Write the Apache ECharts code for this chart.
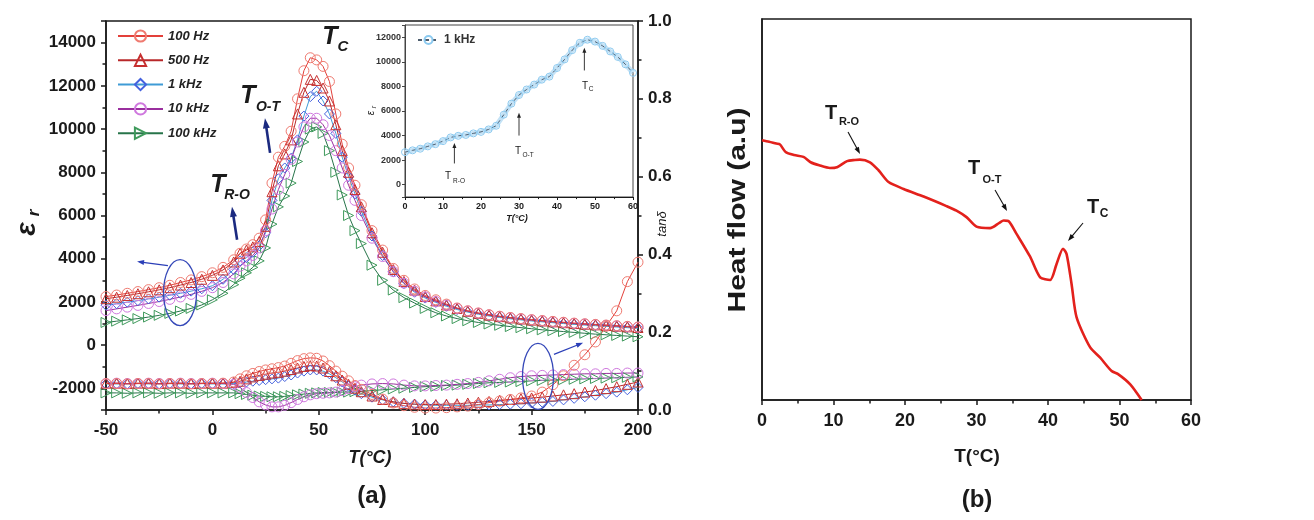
<!DOCTYPE html>
<html><head><meta charset="utf-8">
<script src="https://cdn.jsdelivr.net/npm/echarts@6/dist/echarts.min.js"></script>
<style>html,body{margin:0;padding:0;background:#fff}#c{width:1314px;height:520px}</style>
</head><body><div id="c"></div>
<script>
// ---------- Panel (a): temperature grid (°C) ----------
const T = [-50,-45,-40,-35,-30,-25,-20,-15,-10,-5,0,5,10,
  13,16,19,22,25,28,31,34,37,40,43,46,49,52,55,58,61,64,67,70,
  75,80,85,90,95,100,105,110,115,120,125,130,135,140,145,150,155,160,165,170,175,180,185,190,195,200];

// dielectric constant (left axis)
const eps100Hz = [2250,2320,2400,2480,2570,2660,2770,2900,3020,3170,3350,3600,3950,
  4250,4450,4650,4950,5800,7500,8700,9200,9900,11400,12700,13300,13200,12900,12200,10700,9300,8200,7400,6500,
  5300,4400,3550,3000,2600,2300,2100,1900,1720,1590,1490,1410,1340,1280,1230,1180,1140,1100,1060,1020,990,960,930,900,870,840];
const eps500Hz = [2150,2220,2300,2380,2470,2560,2660,2780,2900,3050,3230,3480,3850,
  4250,4400,4550,4800,5500,7100,8300,8850,9500,10700,11700,12300,12250,11900,11300,10200,9000,8000,7200,6400,
  5200,4300,3500,2950,2550,2250,2050,1860,1700,1570,1470,1390,1320,1260,1210,1160,1120,1080,1040,1000,970,940,910,880,850,820];
const eps1kHz = [1850,1920,1990,2060,2140,2220,2310,2400,2500,2610,2750,3050,3500,
  3900,4050,4300,4600,5200,6700,7700,8200,8650,9500,10600,11500,11750,11300,10700,9800,8700,7800,7000,6200,
  5050,4150,3400,2850,2450,2180,1980,1800,1650,1530,1430,1350,1280,1220,1170,1120,1080,1040,1000,960,930,900,870,840,810,780];
const eps10kHz = [1600,1680,1760,1840,1930,2020,2120,2230,2350,2490,2660,2900,3300,
  3650,3900,4150,4500,5300,6300,7200,7900,8600,9400,10100,10500,10500,10200,9700,9000,8200,7400,6700,6000,
  4950,4100,3400,2870,2500,2230,2020,1850,1700,1580,1480,1400,1330,1270,1220,1170,1130,1090,1050,1010,980,950,920,890,860,830];
const eps100kHz = [1050,1110,1170,1230,1300,1380,1470,1580,1700,1860,2100,2400,2800,
  3100,3350,3600,3900,4500,5600,6400,6900,7500,8500,9400,10000,10100,9800,9000,8000,6950,6000,5300,4700,
  3700,3000,2550,2200,1950,1700,1500,1350,1230,1130,1050,980,920,860,810,760,710,670,630,590,550,510,480,450,420,390];

// loss tangent (right axis)
const tan100Hz = [0.068,0.068,0.067,0.068,0.068,0.067,0.068,0.068,0.067,0.068,0.068,0.069,0.072,
  0.080,0.088,0.094,0.099,0.103,0.106,0.109,0.113,0.120,0.127,0.132,0.134,0.133,0.126,0.114,0.100,0.087,0.075,0.063,0.053,
  0.040,0.028,0.018,0.011,0.007,0.005,0.005,0.006,0.008,0.010,0.014,0.019,0.023,0.027,0.031,0.036,0.046,0.065,0.088,0.115,0.142,0.175,0.215,0.255,0.330,0.380];
const tan500Hz = [0.069,0.069,0.068,0.069,0.069,0.068,0.069,0.069,0.068,0.069,0.069,0.069,0.071,
  0.074,0.080,0.085,0.089,0.092,0.095,0.097,0.100,0.104,0.108,0.112,0.114,0.113,0.108,0.099,0.088,0.077,0.066,0.056,0.047,
  0.036,0.027,0.021,0.017,0.015,0.014,0.014,0.015,0.016,0.018,0.020,0.022,0.025,0.027,0.029,0.031,0.033,0.036,0.039,0.042,0.046,0.050,0.055,0.060,0.066,0.072];
const tan1kHz = [0.067,0.067,0.067,0.068,0.067,0.067,0.068,0.067,0.067,0.068,0.067,0.067,0.068,
  0.070,0.072,0.074,0.076,0.078,0.080,0.082,0.086,0.090,0.095,0.100,0.103,0.103,0.100,0.093,0.083,0.072,0.061,0.051,0.042,
  0.033,0.026,0.021,0.017,0.015,0.013,0.012,0.012,0.012,0.012,0.013,0.013,0.014,0.015,0.016,0.018,0.020,0.022,0.026,0.030,0.034,0.038,0.042,0.046,0.052,0.058];
const tan10kHz = [0.068,0.069,0.068,0.068,0.069,0.068,0.068,0.069,0.068,0.068,0.069,0.068,0.066,
  0.058,0.045,0.032,0.021,0.013,0.008,0.008,0.012,0.019,0.027,0.034,0.039,0.042,0.043,0.044,0.046,0.050,0.055,0.060,0.064,
  0.067,0.068,0.067,0.064,0.062,0.062,0.063,0.064,0.066,0.068,0.071,0.075,0.079,0.083,0.086,0.088,0.089,0.090,0.091,0.092,0.093,0.093,0.094,0.094,0.095,0.095];
const tan100kHz = [0.044,0.044,0.043,0.044,0.044,0.043,0.044,0.044,0.043,0.044,0.044,0.044,0.044,
  0.042,0.040,0.038,0.036,0.035,0.034,0.034,0.035,0.037,0.039,0.041,0.043,0.044,0.045,0.045,0.045,0.046,0.046,0.047,0.048,
  0.050,0.052,0.054,0.056,0.058,0.060,0.061,0.063,0.064,0.066,0.068,0.070,0.071,0.072,0.073,0.075,0.076,0.077,0.078,0.079,0.080,0.081,0.082,0.083,0.084,0.085];

// inset (1 kHz, 0–60 °C)
const insetT = [0,2,4,6,8,10,12,14,16,18,20,22,24,26,28,30,32,34,36,38,40,42,44,46,48,50,52,54,56,58,60];
const insetEps = [2650,2800,2930,3120,3300,3550,3850,3980,4050,4180,4300,4500,4800,5700,6600,7300,7750,8150,8550,8800,9500,10200,10950,11550,11800,11650,11300,10850,10400,9800,9100];

// ---------- Panel (b): DSC heat flow (arbitrary units) ----------
const dscT = [0,1,2,2.5,3.3,4.5,5.8,6.8,8,9.5,10.5,11.9,13,13.7,15.1,16.3,17.7,19.8,22.6,25.8,27.2,28.6,30,31.9,33.2,33.8,34.5,35.6,37.5,38.9,40.3,41.2,42.1,42.6,43.3,44,45.9,47.3,48.9,49.8,51.5,53.1];
const dscY = [68.2,67.8,67.3,67.1,65.1,64.3,63.8,62.4,61.6,60.9,61.1,62.7,63.0,63.1,62.4,60.3,57.2,55.4,53.4,50.9,49.7,48.0,45.5,45.1,46.5,47.1,46.9,43.6,37.6,32.2,31.5,35.7,39.7,38.3,30.4,21.7,13.8,11.1,7.6,6.8,4.1,0];

const legendNames = ['100 Hz','500 Hz','1 kHz','10 kHz','100 kHz'];
const leftTicks = [-2000,0,2000,4000,6000,8000,10000,12000,14000];
const insetTicks = [0,2000,4000,6000,8000,10000,12000];

const FONT = '"Liberation Sans", Arial, sans-serif';
const INK = '#1a1a1a';

const freqs = [
  {name:'100 kHz', eps:eps100kHz, tan:tan100kHz, symbol:'triangle', rot:-90, mc:'#3f9a5c', lc:'#27744a'},
  {name:'1 kHz',   eps:eps1kHz,   tan:tan1kHz,   symbol:'diamond',  rot:0,   mc:'#4461de', lc:'#3f9bd6'},
  {name:'500 Hz',  eps:eps500Hz,  tan:tan500Hz,  symbol:'triangle', rot:0,   mc:'#c62f2f', lc:'#b8282a'},
  {name:'10 kHz',  eps:eps10kHz,  tan:tan10kHz,  symbol:'circle',   rot:0,   mc:'#cf78de', lc:'#9a2f9e'},
  {name:'100 Hz',  eps:eps100Hz,  tan:tan100Hz,  symbol:'circle',   rot:0,   mc:'#ef7a70', lc:'#e3403a'}
];

function pairs(xs, ys){ return xs.map((x,i)=>[x, ys[i]]); }

const series = [];
function addSet(key, yIdx){
  freqs.forEach(f=>{
    series.push({
      type:'line', name:f.name, xAxisIndex:0, yAxisIndex:yIdx,
      data: pairs(T, f[key]),
      symbol:f.symbol, symbolRotate:f.rot, symbolSize:10, showAllSymbol:true,
      itemStyle:{color:'rgba(255,255,255,0)', borderColor:f.mc, borderWidth:1},
      lineStyle:{color:f.lc, width:1},
      emphasis:{disabled:true}, silent:true
    });
  });
}
addSet('eps', 0);
addSet('tan', 1);

series.push({
  type:'line', name:'insetBand', xAxisIndex:1, yAxisIndex:2, data:pairs(insetT, insetEps),
  symbol:'none', lineStyle:{color:'#c3e2f6', width:5}, silent:true, emphasis:{disabled:true}
});
series.push({
  type:'line', name:'inset1k', xAxisIndex:1, yAxisIndex:2, data:pairs(insetT, insetEps),
  symbol:'circle', symbolSize:7, showAllSymbol:true,
  itemStyle:{color:'rgba(255,255,255,0)', borderColor:'#8ccaf0', borderWidth:1},
  lineStyle:{color:'#4d5d6e', width:1, type:[4,3]}, silent:true, emphasis:{disabled:true}
});
series.push({
  type:'line', name:'dsc', xAxisIndex:2, yAxisIndex:3, data:pairs(dscT, dscY),
  symbol:'none', smooth:0.25, lineStyle:{color:'#e3211c', width:2.6}, silent:true, emphasis:{disabled:true}
});

function xAx(grid, min, max, interval, fs, margin, lw, tl){
  return {gridIndex:grid, type:'value', min, max, interval,
    axisLine:{onZero:false, lineStyle:{color:INK, width:lw}},
    axisTick:{length:tl, lineStyle:{color:INK, width:lw}},
    minorTick:{show:true, splitNumber:2, length:tl*0.7, lineStyle:{color:INK, width:lw}},
    splitLine:{show:false}, minorSplitLine:{show:false},
    axisLabel:{fontFamily:FONT, fontWeight:'bold', fontSize:fs, color:INK, margin}};
}

const option = {
  animation:false,
  backgroundColor:'#ffffff',
  grid:[
    {left:106, top:21, width:532, height:389, show:true, borderColor:INK, borderWidth:1.5, backgroundColor:'transparent'},
    {left:405, top:25, width:228, height:172, show:true, borderColor:'#444', borderWidth:1, backgroundColor:'transparent'},
    {left:762, top:19, width:429, height:381, show:true, borderColor:INK, borderWidth:1.5, backgroundColor:'transparent'}
  ],
  xAxis:[
    xAx(0, -50, 200, 50, 17, 12, 1.5, 5),
    xAx(1, 0, 60, 10, 9, 5, 1, 3),
    xAx(2, 0, 60, 10, 18, 12, 1.5, 5)
  ],
  yAxis:[
    {gridIndex:0, type:'value', position:'left', min:-3000, max:15000, splitNumber:9,
      axisLine:{show:true, onZero:false, lineStyle:{color:INK, width:1.5}},
      axisTick:{length:5, lineStyle:{color:INK, width:1.5}},
      minorTick:{show:true, splitNumber:2, length:3.5, lineStyle:{color:INK, width:1.5}},
      splitLine:{show:false},
      axisLabel:{fontFamily:FONT, fontWeight:'bold', fontSize:17, color:INK, margin:10,
        formatter:v=> leftTicks.includes(v) ? String(v) : ''}},
    {gridIndex:0, type:'value', position:'right', min:0, max:1, interval:0.2,
      axisLine:{show:true, onZero:false, lineStyle:{color:INK, width:1.5}},
      axisTick:{length:5, lineStyle:{color:INK, width:1.5}},
      minorTick:{show:true, splitNumber:2, length:3.5, lineStyle:{color:INK, width:1.5}},
      splitLine:{show:false},
      axisLabel:{fontFamily:FONT, fontWeight:'bold', fontSize:17, color:INK, margin:10,
        formatter:v=>v.toFixed(1)}},
    {gridIndex:1, type:'value', min:-1000, max:13000, splitNumber:7,
      axisLine:{show:true, onZero:false, lineStyle:{color:'#444', width:1}},
      axisTick:{length:3, lineStyle:{color:'#444'}},
      splitLine:{show:false},
      axisLabel:{fontFamily:FONT, fontWeight:'bold', fontSize:9, color:'#333', margin:4,
        formatter:v=> insetTicks.includes(v) ? String(v) : ''}},
    {gridIndex:2, type:'value', min:0, max:100,
      axisLine:{show:true, onZero:false, lineStyle:{color:INK, width:1.5}},
      axisTick:{show:false}, axisLabel:{show:false}, splitLine:{show:false}}
  ],
  legend:[
    {data:legendNames, orient:'vertical', left:117, top:29, itemWidth:45, itemHeight:14, itemGap:10.3, padding:0,
      selectedMode:false,
      textStyle:{fontFamily:FONT, fontWeight:'bold', fontStyle:'italic', fontSize:13, color:'#222', lineHeight:14}},
    {data:['inset1k'], left:417, top:34, itemWidth:21, itemHeight:10, padding:0, selectedMode:false,
      formatter:()=> '1 kHz',
      textStyle:{fontFamily:FONT, fontWeight:'bold', fontSize:12, color:'#333'}}
  ],
  series
};

const chart = echarts.init(document.getElementById('c'));
chart.setOption(option);

// ---------- annotations ----------
function arrowEls(p1, p2, color, w, hl, hw){
  const dx=p2[0]-p1[0], dy=p2[1]-p1[1], L=Math.hypot(dx,dy), ux=dx/L, uy=dy/L;
  const bx=p2[0]-ux*hl, by=p2[1]-uy*hl, nx=-uy, ny=ux;
  return [
    {type:'line', silent:true, z:50, shape:{x1:p1[0],y1:p1[1],x2:bx+ux,y2:by+uy}, style:{stroke:color, lineWidth:w}},
    {type:'polygon', silent:true, z:50, shape:{points:[[p2[0],p2[1]],[bx+nx*hw/2,by+ny*hw/2],[bx-nx*hw/2,by-ny*hw/2]]}, style:{fill:color}}
  ];
}
function txt(x, y, s, size, opts){
  opts = opts || {};
  return {type:'text', silent:true, z:60, x, y, rotation:opts.rot||0, scaleX:opts.sx||1, scaleY:opts.sy||1,
    style:{text:s, fontFamily:FONT, fontSize:size, fontWeight:opts.weight||'bold', fontStyle:opts.italic?'italic':'normal',
      fill:opts.color||INK, align:'center', verticalAlign:'middle'}};
}
const A = {xAxisIndex:0, yAxisIndex:0};
const I = {xAxisIndex:1, yAxisIndex:2};
const B = {xAxisIndex:2, yAxisIndex:3};
const px = (f, p)=> chart.convertToPixel(f, p);

const els = [];
// panel (a) arrows pointing to transitions
els.push(...arrowEls(px(A,[27.1,8900]), px(A,[24.7,10500]), '#1b2a80', 2.6, 10, 7));
els.push(...arrowEls(px(A,[11.6,4880]), px(A,[9.2,6400]), '#1b2a80', 2.6, 10, 7));
// ellipses + pointer arrows
const eL = px(A,[-15.2,2434]), eR = px(A,[153,-1446]);
els.push({type:'ellipse', silent:true, z:50, shape:{cx:eL[0], cy:eL[1], rx:16.5, ry:33}, style:{fill:'none', stroke:'#3548b8', lineWidth:1.3}});
els.push({type:'ellipse', silent:true, z:50, shape:{cx:eR[0], cy:eR[1], rx:15.5, ry:33}, style:{fill:'none', stroke:'#3548b8', lineWidth:1.3}});
els.push(...arrowEls(px(A,[-20.9,3681]), px(A,[-35.4,3866]), '#2b3fb8', 1.3, 7, 5));
els.push(...arrowEls(px(A,[160.5,-430]), px(A,[174.2,111]), '#2b3fb8', 1.3, 7, 5));
// panel (a) labels
els.push(txt(330, 37, 'T', 25, {italic:true}), txt(343, 47, 'C', 15, {italic:true}));
els.push(txt(248, 96, 'T', 25, {italic:true}), txt(268, 107, 'O-T', 14, {italic:true}));
els.push(txt(218, 185, 'T', 25, {italic:true}), txt(237, 195, 'R-O', 14, {italic:true}));
els.push(txt(370, 458, 'T(°C)', 18, {italic:true}));
els.push(txt(372, 496, '(a)', 24));
els.push(txt(27, 229, 'ε', 28, {italic:true, rot:Math.PI/2}));
els.push(txt(34, 213, 'r', 17, {italic:true, rot:Math.PI/2}));
els.push(txt(662, 224, 'tanδ', 13, {italic:true, weight:'normal', rot:Math.PI/2}));
// inset annotations
els.push(...arrowEls(px(I,[13,1730]), px(I,[13,3400]), '#222', 0.9, 5, 4));
els.push(...arrowEls(px(I,[30,4000]), px(I,[30,5850]), '#222', 0.9, 5, 4));
els.push(...arrowEls(px(I,[47.2,9300]), px(I,[47.2,11150]), '#222', 0.9, 5, 4));
els.push(txt(448, 176, 'T', 10, {weight:'normal'}), txt(459, 181, 'R-O', 6.5, {weight:'normal'}));
els.push(txt(518, 151, 'T', 10, {weight:'normal'}), txt(528, 155, 'O-T', 6.5, {weight:'normal'}));
els.push(txt(585, 86, 'T', 10, {weight:'normal'}), txt(591, 89, 'C', 6.5, {weight:'normal'}));
els.push(txt(517, 219, 'T(°C)', 9, {italic:true}));
els.push(txt(371, 113, 'ε', 10, {italic:true, weight:'normal', rot:Math.PI/2}));
els.push(txt(374, 107, 'r', 7, {italic:true, weight:'normal', rot:Math.PI/2}));
// panel (b) annotations
els.push(...arrowEls(px(B,[12.03,70.34]), px(B,[13.71,64.57]), '#111', 1.1, 7, 5));
els.push(...arrowEls(px(B,[32.59,55.12]), px(B,[34.27,49.61]), '#111', 1.1, 7, 5));
els.push(...arrowEls(px(B,[44.9,46.46]), px(B,[42.8,41.73]), '#111', 1.1, 7, 5));
els.push(txt(831, 113, 'T', 20), txt(849, 122, 'R-O', 11));
els.push(txt(974, 168, 'T', 20), txt(992, 180, 'O-T', 11));
els.push(txt(1093, 207, 'T', 20), txt(1104, 214, 'C', 12));
els.push(txt(977, 457, 'T(°C)', 19));
els.push(txt(977, 500, '(b)', 24));
els.push(txt(738, 210, 'Heat flow (a.u)', 24, {rot:Math.PI/2, sx:1.25}));

chart.setOption({graphic:{elements:els}});
</script>
</body></html>
